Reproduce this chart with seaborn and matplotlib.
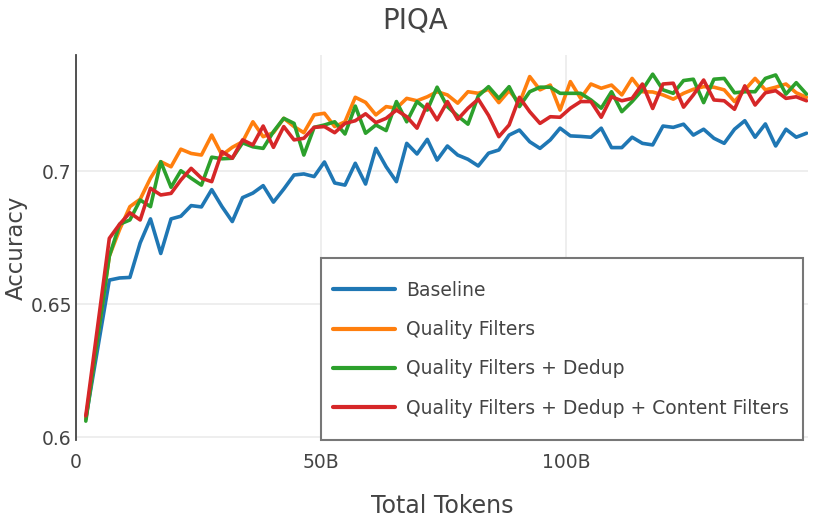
import numpy as np
import pandas as pd
import matplotlib
matplotlib.use("Agg")
import matplotlib.pyplot as plt
import seaborn as sns
from matplotlib.ticker import FixedLocator
from matplotlib.patches import Rectangle

# tokens seen (billions) at each eval point
tokens = [2.0, 6.8, 8.9, 11.0, 13.1, 15.2, 17.3, 19.4, 21.4, 23.5, 25.6, 27.7,
          29.8, 31.9, 34.0, 36.1, 38.2, 40.3, 42.4, 44.5, 46.5, 48.6, 50.7, 52.8,
          54.9, 57.0, 59.1, 61.2, 63.3, 65.4, 67.5, 69.6, 71.7, 73.7, 75.8, 77.9,
          80.0, 82.1, 84.2, 86.3, 88.4, 90.5, 92.6, 94.7, 96.8, 98.8, 100.9, 103.0,
          105.1, 107.2, 109.3, 111.4, 113.5, 115.6, 117.7, 119.8, 121.9, 124.0,
          126.0, 128.1, 130.2, 132.3, 134.4, 136.5, 138.6, 140.7, 142.8, 144.9,
          147.0, 149.1]

baseline = [0.607, 0.659, 0.6598, 0.660, 0.673, 0.682, 0.669, 0.682, 0.683, 0.687,
            0.6865, 0.693, 0.6866, 0.681, 0.690, 0.6917, 0.6945, 0.6883, 0.6932,
            0.6985, 0.6989, 0.6979, 0.7034, 0.6955, 0.6947, 0.7029, 0.6951, 0.7085,
            0.7016, 0.696, 0.7104, 0.7064, 0.7119, 0.7041, 0.7094, 0.706, 0.7044,
            0.7019, 0.7067, 0.7079, 0.7135, 0.7154, 0.711, 0.7085, 0.7117, 0.7161,
            0.7132, 0.713, 0.7127, 0.7161, 0.7088, 0.7088, 0.7127, 0.7104, 0.7098,
            0.7169, 0.7164, 0.7176, 0.7135, 0.7157, 0.7123, 0.7104, 0.7157, 0.7189,
            0.7127, 0.7177, 0.7094, 0.7157, 0.7127, 0.7142]

quality = [0.607, 0.668, 0.678, 0.6866, 0.6894, 0.6973, 0.7035, 0.7016, 0.7082,
           0.7066, 0.706, 0.7135, 0.706, 0.7089, 0.711, 0.7185, 0.7129, 0.7144,
           0.7198, 0.7167, 0.7144, 0.7211, 0.7217, 0.7167, 0.7185, 0.7277, 0.7258,
           0.7211, 0.7242, 0.7236, 0.7273, 0.7264, 0.7279, 0.7298, 0.7286, 0.7255,
           0.7298, 0.7292, 0.7307, 0.7257, 0.7302, 0.7255, 0.7355, 0.7305, 0.7323,
           0.7229, 0.7336, 0.7273, 0.7327, 0.7311, 0.7323, 0.7286, 0.7348, 0.7298,
           0.7297, 0.7286, 0.727, 0.7292, 0.7307, 0.7317, 0.7315, 0.7305, 0.7261,
           0.7305, 0.7348, 0.7305, 0.7315, 0.7327, 0.7294, 0.7277]

dedup = [0.606, 0.668, 0.680, 0.6816, 0.6891, 0.6866, 0.7035, 0.6939, 0.7001,
         0.6973, 0.6947, 0.7052, 0.7046, 0.7048, 0.7106, 0.7091, 0.7085, 0.7148,
         0.7198, 0.7179, 0.706, 0.7164, 0.7173, 0.7185, 0.7139, 0.7244, 0.7142,
         0.7173, 0.7152, 0.7261, 0.7185, 0.7261, 0.7229, 0.7315, 0.7242, 0.7207,
         0.7176, 0.7282, 0.7317, 0.7273, 0.7317, 0.7242, 0.7298, 0.7315, 0.7315,
         0.7292, 0.7292, 0.7292, 0.7267, 0.7236, 0.7298, 0.7223, 0.7261, 0.7305,
         0.7364, 0.7305, 0.7292, 0.734, 0.7345, 0.7257, 0.7345, 0.7348, 0.7294,
         0.7298, 0.7298, 0.7348, 0.7361, 0.7289, 0.7332, 0.7289]

content = [0.608, 0.6747, 0.680, 0.6843, 0.6816, 0.6935, 0.691, 0.6916, 0.6966,
           0.701, 0.6973, 0.696, 0.7073, 0.7048, 0.7117, 0.7098, 0.7169, 0.7089,
           0.7167, 0.7117, 0.7123, 0.7164, 0.7167, 0.7144, 0.7179, 0.7189, 0.7215,
           0.7182, 0.7198, 0.7229, 0.7204, 0.7161, 0.7251, 0.7192, 0.7261, 0.7194,
           0.7236, 0.727, 0.7209, 0.7129, 0.7173, 0.7277, 0.7223, 0.7179, 0.7204,
           0.7202, 0.7236, 0.7261, 0.7261, 0.7202, 0.7279, 0.7264, 0.7273, 0.7327,
           0.7235, 0.7327, 0.733, 0.724, 0.7286, 0.7342, 0.7267, 0.7264, 0.7232,
           0.732, 0.7248, 0.7294, 0.7302, 0.7273, 0.7279, 0.7264]

series_names = ["Baseline", "Quality Filters", "Quality Filters + Dedup",
                "Quality Filters + Dedup + Content Filters"]
colors = ["#1f77b4", "#ff7f0e", "#2ca02c", "#d62728"]

frames = []
for name, vals in zip(series_names, [baseline, quality, dedup, content]):
    frames.append(pd.DataFrame({"tokens": tokens, "acc": vals, "run": name}))
df = pd.concat(frames, ignore_index=True)

sns.set_style("white")
plt.rcParams["font.family"] = ["DejaVu Sans"]
text_col = "#444444"

fig = plt.figure(figsize=(8.3, 5.2), dpi=100)
ax = fig.add_axes([76 / 830, 80 / 520, 732 / 830, 385 / 520])

sns.lineplot(data=df, x="tokens", y="acc", hue="run", palette=colors,
             hue_order=series_names, linewidth=2.6, ax=ax, legend=True)

ax.set_xlim(0, 149.4)
ax.set_ylim(0.5989, 0.7436)
ax.xaxis.set_major_locator(FixedLocator([0, 50, 100]))
ax.set_xticklabels(["0", "50B", "100B"])
ax.yaxis.set_major_locator(FixedLocator([0.6, 0.65, 0.7]))
ax.set_yticklabels(["0.6", "0.65", "0.7"])
ax.grid(True, color="#ebebeb", linewidth=1.2)
ax.set_axisbelow(True)
for s in ["top", "right", "bottom"]:
    ax.spines[s].set_visible(False)
ax.spines["left"].set_color(text_col)
ax.spines["left"].set_linewidth(1.3)
ax.tick_params(axis="both", length=0, labelsize=13.5, colors=text_col)
ax.tick_params(axis="x", pad=9)
ax.tick_params(axis="y", pad=3)

ax.set_xlabel("Total Tokens", fontsize=17, color=text_col, labelpad=16)
ax.set_ylabel("Accuracy", fontsize=16.5, color=text_col, labelpad=2)
fig.text(0.5, 1 - 20 / 520, "PIQA", fontsize=20, color=text_col,
         ha="center", va="center")

# legend frame drawn as a box so horizontal/vertical padding can differ
box = Rectangle((321 / 830, 1 - 440 / 520), 482 / 830, 181.7 / 520,
                transform=fig.transFigure, facecolor="white", edgecolor="#777777",
                linewidth=1.5, zorder=5, clip_on=False)
ax.add_patch(box)

leg = ax.legend(loc="center left", bbox_to_anchor=(333 / 830, 1 - 349.2 / 520),
                bbox_transform=fig.transFigure, fontsize=13.5,
                handlelength=3.3, handletextpad=0.6, labelspacing=1.08,
                borderpad=0, frameon=False, borderaxespad=0)
leg.set_zorder(6)
for t in leg.get_texts():
    t.set_color(text_col)
for ln in leg.get_lines():
    ln.set_linewidth(3)

fig.savefig("out.png", dpi=100)
